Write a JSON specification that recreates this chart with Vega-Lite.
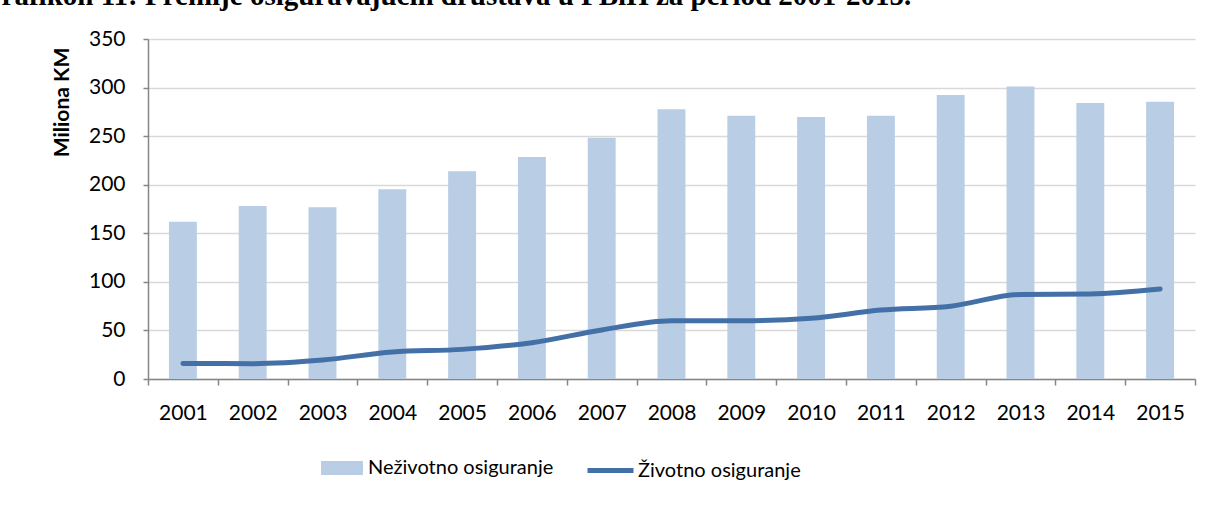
{
  "$schema": "https://vega.github.io/schema/vega-lite/v6.json",
  "width": 1047,
  "height": 340,
  "autosize": {"type": "none"},
  "padding": {"left": 148, "top": 39, "right": 26, "bottom": 141},
  "background": "white",
  "title": {
    "text": "Grafikon 11: Premije osiguravajućih društava u FBiH za period 2001-2015.",
    "anchor": "start",
    "frame": "group",
    "orient": "top",
    "font": "Liberation Serif",
    "fontSize": 29,
    "fontWeight": "bold",
    "color": "black",
    "baseline": "alphabetic",
    "dx": -169,
    "offset": 0,
    "dy": 6
  },
  "config": {
    "view": {"stroke": null},
    "font": "Lato",
    "axis": {"labelFont": "Lato", "titleFont": "Lato"}
  },
  "data": {
    "values": [
      {"year": "2001", "non": 162, "life": 16},
      {"year": "2002", "non": 178, "life": 15.8},
      {"year": "2003", "non": 176.7, "life": 19.5},
      {"year": "2004", "non": 195.3, "life": 27.8},
      {"year": "2005", "non": 213.8, "life": 30.5},
      {"year": "2006", "non": 228.5, "life": 37.4},
      {"year": "2007", "non": 248.4, "life": 50.5},
      {"year": "2008", "non": 277.6, "life": 60},
      {"year": "2009", "non": 271, "life": 60},
      {"year": "2010", "non": 269.7, "life": 62.5},
      {"year": "2011", "non": 271, "life": 71},
      {"year": "2012", "non": 292.4, "life": 75},
      {"year": "2013", "non": 301, "life": 87},
      {"year": "2014", "non": 284, "life": 87.5},
      {"year": "2015", "non": 285.5, "life": 92.6}
    ]
  },
  "encoding": {
    "x": {
      "field": "year",
      "type": "ordinal",
      "scale": {"paddingInner": 0, "paddingOuter": 0},
      "axis": {
        "title": null,
        "labelAngle": 0,
        "labelFontSize": 21,
        "labelColor": "black",
        "labelPadding": 17,
        "tickBand": "extent",
        "tickSize": 6,
        "tickColor": "#868686",
        "tickWidth": 1.5,
        "domainColor": "#868686",
        "domainWidth": 1.5,
        "grid": false
      }
    }
  },
  "layer": [
    {
      "mark": {"type": "bar", "width": {"band": 0.4}},
      "encoding": {
        "y": {
          "field": "non",
          "type": "quantitative",
          "scale": {"domain": [0, 350], "nice": false},
          "axis": {
            "title": "Miliona KM",
            "titleFontSize": 21,
            "titleFontWeight": "bold",
            "titleColor": "black",
            "titleAngle": -90,
            "titleAlign": "center",
            "titleBaseline": "middle",
            "titleX": -86,
            "titleY": 63,
            "values": [0, 50, 100, 150, 200, 250, 300, 350],
            "labelFontSize": 21,
            "labelColor": "black",
            "labelPadding": 18,
            "tickSize": 5,
            "tickColor": "#868686",
            "tickWidth": 1.5,
            "domainColor": "#868686",
            "domainWidth": 1.5,
            "grid": true,
            "gridColor": "#d9d9d9",
            "gridWidth": 1.5
          }
        },
        "fill": {
          "datum": "Neživotno osiguranje",
          "scale": {"range": ["#b9cde5"]},
          "legend": {
            "title": null,
            "orient": "none",
            "legendX": 173,
            "legendY": 408,
            "padding": 0,
            "symbolType": "M-1,-0.333H1V0.333H-1Z",
            "symbolSize": 1764,
            "symbolStrokeWidth": 0,
            "labelFont": "Lato",
            "labelFontSize": 20,
            "labelColor": "black",
            "labelOffset": 5,
            "labelLimit": 0
          }
        }
      }
    },
    {
      "mark": {"type": "line", "strokeWidth": 5, "interpolate": "monotone", "strokeCap": "round"},
      "encoding": {
        "y": {"field": "life", "type": "quantitative"},
        "stroke": {
          "datum": "Životno osiguranje",
          "scale": {"range": ["#4470a8"]},
          "legend": {
            "title": null,
            "orient": "none",
            "legendX": 437,
            "legendY": 406,
            "padding": 0,
            "symbolType": "stroke",
            "symbolSize": 2116,
            "symbolStrokeWidth": 5,
            "labelFont": "Lato",
            "labelFontSize": 20,
            "labelColor": "black",
            "labelOffset": 2,
            "labelLimit": 0
          }
        }
      }
    }
  ]
}
